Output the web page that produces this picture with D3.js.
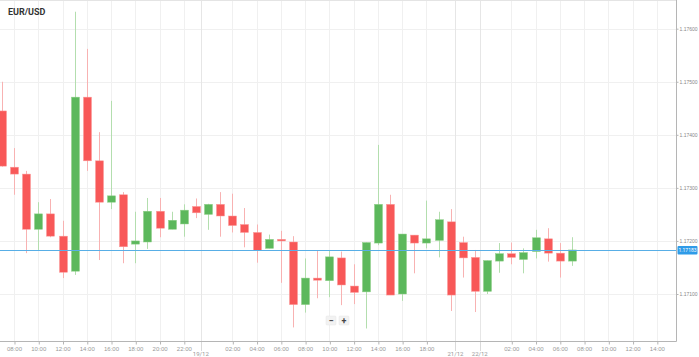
<!DOCTYPE html>
<html><head><meta charset="utf-8">
<script src="https://cdn.jsdelivr.net/npm/d3@7"></script>
<style>html,body{margin:0;padding:0;background:#fff;}svg{display:block;font-family:Roboto,"Noto Sans",sans-serif;}</style>
</head><body>
<script>
const title = "EUR/USD";
const openV  = [1.17445,1.17339,1.17326,1.17222,1.17251,1.17209,1.17143,1.17471,1.17351,1.17273,1.17287,1.17194,1.17198,1.17256,1.17222,1.17232,1.17265,1.17250,1.17269,1.17247,1.17231,1.17216,1.17186,1.17203,1.17198,1.17080,1.17130,1.17125,1.17168,1.17115,1.17104,1.17196,1.17269,1.17100,1.17211,1.17196,1.17201,1.17236,1.17197,1.17169,1.17105,1.17162,1.17176,1.17165,1.17180,1.17204,1.17177,1.17162];
const highV  = [1.17500,1.17375,1.17332,1.17273,1.17279,1.17238,1.17632,1.17562,1.17405,1.17464,1.17292,1.17255,1.17281,1.17281,1.17255,1.17269,1.17280,1.17270,1.17292,1.17289,1.17262,1.17231,1.17212,1.17219,1.17209,1.17167,1.17181,1.17181,1.17180,1.17156,1.17197,1.17381,1.17287,1.17213,1.17211,1.17276,1.17255,1.17260,1.17208,1.17183,1.17163,1.17196,1.17197,1.17186,1.17221,1.17224,1.17196,1.17207];
const lowV   = [1.17340,1.17287,1.17177,1.17183,1.17207,1.17130,1.17136,1.17332,1.17164,1.17260,1.17158,1.17158,1.17185,1.17207,1.17222,1.17208,1.17243,1.17221,1.17208,1.17216,1.17188,1.17159,1.17186,1.17121,1.17037,1.17065,1.17092,1.17094,1.17079,1.17081,1.17035,1.17192,1.17098,1.17087,1.17139,1.17186,1.17169,1.17068,1.17131,1.17066,1.17100,1.17140,1.17156,1.17139,1.17167,1.17161,1.17131,1.17153];
const closeV = [1.17341,1.17326,1.17222,1.17251,1.17209,1.17141,1.17471,1.17351,1.17273,1.17285,1.17189,1.17200,1.17256,1.17224,1.17239,1.17258,1.17253,1.17269,1.17247,1.17229,1.17216,1.17182,1.17203,1.17200,1.17080,1.17130,1.17126,1.17170,1.17117,1.17103,1.17197,1.17269,1.17098,1.17213,1.17196,1.17204,1.17240,1.17098,1.17168,1.17105,1.17163,1.17176,1.17169,1.17178,1.17206,1.17177,1.17162,1.17183];
const timeTickIdx    = [1,3,5,7,9,11,13,15,19,21,23,25,27,29,31,33,35,42,44,46,48,50,52,54];
const timeTickLabels = ["08:00","10:00","12:00","14:00","16:00","18:00","20:00","22:00","02:00","04:00","06:00","08:00","10:00","12:00","14:00","16:00","18:00","02:00","04:00","06:00","08:00","10:00","12:00","14:00"];
const dateTickIdx    = [16.4,37.4,39.4];
const dateTickLabels = ["19/12","21/12","22/12"];
const priceTicks     = [1.171,1.172,1.173,1.174,1.175,1.176];
const currentPrice   = 1.17183;

const W = 699, H = 357, plotR = 676, plotB = 341;
const svg = d3.select("body").append("svg").attr("width", W).attr("height", H);

const x = d3.scaleLinear().domain([-0.154, 55.58]).range([0, plotR]);
const y = d3.scaleLinear().domain([1.171, 1.176]).range([294, 28.7]);
const bw = 8;

// grid
const grid = svg.append("g");
grid.selectAll(".hg").data(priceTicks).join("line")
  .attr("x1", 0).attr("x2", plotR).attr("y1", d => Math.round(y(d)) + 0.5).attr("y2", d => Math.round(y(d)) + 0.5)
  .attr("stroke", "#f0f0f0").attr("stroke-width", 1);
grid.selectAll(".vg").data(timeTickIdx).join("line")
  .attr("x1", d => Math.round(x(d)) + 0.5).attr("x2", d => Math.round(x(d)) + 0.5).attr("y1", 0).attr("y2", plotB)
  .attr("stroke", "#f0f0f0").attr("stroke-width", 1);
grid.selectAll(".dg").data(dateTickIdx).join("line")
  .attr("x1", d => Math.round(x(d)) + 0.5).attr("x2", d => Math.round(x(d)) + 0.5).attr("y1", 0).attr("y2", plotB)
  .attr("stroke", "#e6e6e6").attr("stroke-width", 1);

// top border
svg.append("line").attr("x1", 0).attr("x2", plotR).attr("y1", 0.5).attr("y2", 0.5).attr("stroke", "#e4e4e4");

const candles = d3.range(openV.length).map(i => ({i, o: openV[i], h: highV[i], l: lowV[i], c: closeV[i]}));
const up = "#5cb85c", down = "#f85858";
const upW = "#b3deae", downW = "#f8b2b2";

const cg = svg.append("g");
cg.selectAll(".wick").data(candles).join("line")
  .attr("x1", d => Math.round(x(d.i)) + 0.5).attr("x2", d => Math.round(x(d.i)) + 0.5)
  .attr("y1", d => y(d.h)).attr("y2", d => y(d.l))
  .attr("stroke", d => d.c >= d.o ? upW : downW).attr("stroke-width", 1);
cg.selectAll(".body").data(candles).join("rect")
  .attr("x", d => Math.round(x(d.i)) - bw / 2 + 0.5)
  .attr("y", d => y(Math.max(d.o, d.c)))
  .attr("width", bw)
  .attr("height", d => Math.max(1.5, Math.abs(y(d.o) - y(d.c))))
  .attr("fill", d => d.c >= d.o ? up : down)
  .attr("stroke", d => d.c >= d.o ? "#8fcf88" : "#fb9a9a").attr("stroke-width", 0.5);

// current price line
svg.append("line").attr("x1", 0).attr("x2", plotR)
  .attr("y1", Math.round(y(currentPrice)) + 0.5).attr("y2", Math.round(y(currentPrice)) + 0.5)
  .attr("stroke", "#58aee6").attr("stroke-width", 1);

// axes lines
svg.append("line").attr("x1", 0).attr("x2", plotR + 0.5).attr("y1", plotB + 0.5).attr("y2", plotB + 0.5).attr("stroke", "#b5b5b5");
svg.append("line").attr("x1", plotR + 0.5).attr("x2", plotR + 0.5).attr("y1", 0).attr("y2", plotB + 0.5).attr("stroke", "#b5b5b5");

// y axis
const yAxis = d3.axisRight(y).tickValues(priceTicks).tickFormat(d3.format(".5f")).tickSize(2).tickPadding(1);
const yg = svg.append("g").attr("transform", `translate(${plotR + 0.5},0)`).call(yAxis);
yg.select(".domain").remove();
yg.selectAll("line").attr("stroke", "#b5b5b5");
yg.selectAll("text").attr("fill", "#888").style("font-size", "5px");

// current price tag
const tag = svg.append("g").attr("transform", `translate(${plotR + 1.5},${y(currentPrice)})`);
tag.append("rect").attr("x", 0).attr("y", -4).attr("width", 20).attr("height", 8.5).attr("rx", 1).attr("fill", "#2f9be8");
tag.append("text").attr("x", 10).attr("y", 2).attr("text-anchor", "middle").attr("fill", "#fff").style("font-size", "5px").text(d3.format(".5f")(currentPrice));

// x axis
const xAxis = d3.axisBottom(x).tickValues(timeTickIdx).tickFormat((d, k) => timeTickLabels[k]).tickSize(3).tickPadding(2);
const xg = svg.append("g").attr("transform", `translate(0,${plotB + 0.5})`).call(xAxis);
xg.select(".domain").remove();
xg.selectAll("line").attr("stroke", "#b5b5b5").attr("transform", "translate(0.5,0)");
xg.selectAll("text").attr("fill", "#999").style("font-size", "6px");

const dg = svg.append("g").attr("transform", `translate(0,${plotB + 0.5})`);
dg.selectAll("line").data(dateTickIdx).join("line")
  .attr("x1", d => Math.round(x(d)) + 0.5).attr("x2", d => Math.round(x(d)) + 0.5)
  .attr("y1", 0).attr("y2", 10).attr("stroke", "#b5b5b5").attr("stroke-dasharray", "1,1");
dg.selectAll("text").data(dateTickIdx).join("text")
  .attr("x", d => x(d)).attr("y", 14.5).attr("text-anchor", "middle")
  .attr("fill", "#999").style("font-size", "6px").text((d, k) => dateTickLabels[k]);

// title
svg.append("text").attr("x", 8).attr("y", 15).attr("fill", "#333").style("font-size", "9px").style("font-weight", "bold").text(title);

// zoom buttons
const zb = svg.append("g");
[["\u2212", 326], ["+", 339]].forEach(([s, bx]) => {
  zb.append("rect").attr("x", bx).attr("y", 316).attr("width", 10).attr("height", 9).attr("rx", 1).attr("fill", "#f2f2f2").attr("stroke", "#e4e4e4").attr("stroke-width", 0.5);
  zb.append("text").attr("x", bx + 5).attr("y", 323.5).attr("text-anchor", "middle").attr("fill", "#444").style("font-size", "9px").style("font-weight", "bold").text(s);
});
</script>
</body></html>
